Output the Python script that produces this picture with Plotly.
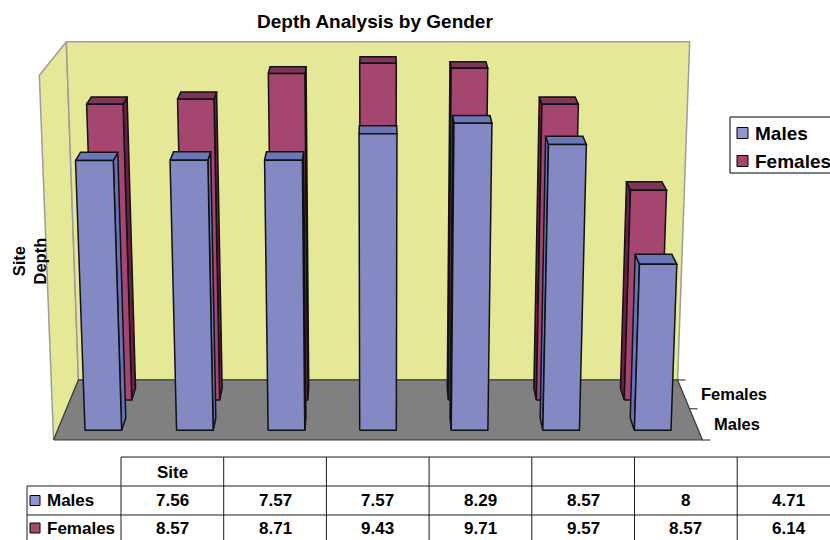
import plotly.graph_objects as go

# ---- data ----
series_names = ["Males", "Females"]
males = [7.56, 7.57, 7.57, 8.29, 8.57, 8, 4.71]
females = [8.57, 8.71, 9.43, 9.71, 9.57, 8.57, 6.14]
table_header = ["Site", "", "", "", "", "", ""]
title_text = "Depth Analysis by Gender"
value_axis_title = "Site<br>Depth"

# ---- styling ----
FONT = "Liberation Sans, Arial, Helvetica, sans-serif"
WALL = "#E5E896"
WALL_EDGE = "#9C9C9C"
FLOOR = "#808080"
FACE = {
    "Males": {"front": "#8489C3", "top": "#6B78B5", "side": "#6673BA", "key": "#8F95D0"},
    "Females": {"front": "#A4466F", "top": "#7E3559", "side": "#6B1F47", "key": "#A4466F"},
}
EDGE = "#111111"

# ---- 3-D world: X = category (0..7), Y = series depth (0..2), Z = value (0..10) ----
N_CAT = len(males)
Z_MAX = 10
BAR_W = 0.4      # bar width within a category slot
BAR_D = 0.4      # bar depth within a series slot
BAR_OFFSET = 0.3  # gap in front of each bar inside its series slot
CAM_X = N_CAT / 2


def proj(X, Y, Z):
    """Perspective projection of world coordinates to page pixels."""
    w = 1 + 0.0415 * Y - 0.0042 * Z
    sx = 378 + 92.7 * (X - CAM_X) / w
    sy = (440 - 14.25 * Y - 36.8 * Z) / w
    return sx, sy


fig = go.Figure()


def poly(pts3d, fill, line_color, width=1.5):
    xs, ys = [], []
    for p in pts3d:
        sx, sy = proj(*p)
        xs.append(sx)
        ys.append(sy)
    xs.append(xs[0])
    ys.append(ys[0])
    fig.add_trace(go.Scatter(
        x=xs, y=ys, mode="lines", fill="toself", fillcolor=fill,
        line=dict(color=line_color, width=width), hoverinfo="skip", showlegend=False,
    ))


n_series = len(series_names)
# walls and floor
poly([(0, 0, 0), (0, n_series, 0), (0, n_series, Z_MAX), (0, 0, Z_MAX)], WALL, WALL_EDGE, 1.5)
poly([(0, n_series, 0), (N_CAT, n_series, 0), (N_CAT, n_series, Z_MAX), (0, n_series, Z_MAX)],
     WALL, WALL_EDGE, 1.5)
poly([(0, 0, 0), (N_CAT, 0, 0), (N_CAT, n_series, 0), (0, n_series, 0)], FLOOR, "#3A3A3A", 1.2)

# depth-axis ticks and labels along the right edge of the floor
for k in range(n_series + 1):
    sx, sy = proj(N_CAT, k, 0)
    fig.add_shape(type="line", x0=sx, y0=sy, x1=sx + 8, y1=sy,
                  line=dict(color="#222222", width=1), xref="x", yref="y")
annotations = []
for k, name in enumerate(series_names):
    sx, sy = proj(N_CAT, k + 0.5, 0)
    annotations.append(dict(x=sx + 16, y=sy, text=f"<b>{name}</b>", xanchor="left",
                            yanchor="middle", showarrow=False,
                            font=dict(family=FONT, size=16.5, color="black")))


def bar(i, s, h, colors):
    x0 = i + (1 - BAR_W) / 2
    x1 = x0 + BAR_W
    y0 = s + BAR_OFFSET
    y1 = y0 + BAR_D
    if x1 < CAM_X:
        poly([(x1, y0, 0), (x1, y1, 0), (x1, y1, h), (x1, y0, h)], colors["side"], EDGE)
    elif x0 > CAM_X:
        poly([(x0, y0, 0), (x0, y1, 0), (x0, y1, h), (x0, y0, h)], colors["side"], EDGE)
    poly([(x0, y0, h), (x1, y0, h), (x1, y1, h), (x0, y1, h)], colors["top"], EDGE)
    poly([(x0, y0, 0), (x1, y0, 0), (x1, y0, h), (x0, y0, h)], colors["front"], EDGE)


# back row first, then front row
for s, (name, vals) in reversed(list(enumerate(zip(series_names, [males, females])))):
    for i, v in enumerate(vals):
        bar(i, s, v, FACE[name])

# ---- title and value-axis title ----
annotations.append(dict(x=375, y=21, text=f"<b>{title_text}</b>", showarrow=False,
                        xanchor="center", yanchor="middle",
                        font=dict(family=FONT, size=19, color="black")))
annotations.append(dict(x=28.5, y=261, text=f"<b>{value_axis_title}</b>", showarrow=False,
                        textangle=-90, xanchor="center", yanchor="middle",
                        font=dict(family=FONT, size=16.5, color="black")))

# ---- legend box ----
fig.add_shape(type="rect", x0=730, y0=117, x1=870, y1=173, line=dict(color="black", width=1),
              fillcolor="white", xref="x", yref="y", layer="above")
for k, (name, cy) in enumerate(zip(series_names, [133, 161])):
    fig.add_shape(type="rect", x0=737, y0=cy - 5.5, x1=748, y1=cy + 5.5,
                  line=dict(color="black", width=1), fillcolor=FACE[name]["key"],
                  xref="x", yref="y", layer="above")
    annotations.append(dict(x=753, y=cy, text=f"<b>{name}</b>", showarrow=False,
                            xanchor="left", yanchor="middle",
                            font=dict(family=FONT, size=19, color="black")))

# ---- data table ----
col_left = 121
col_w = 102.7
row_y = [457, 486, 515, 544]
head_left = 27
line_style = dict(color="#1A1A1A", width=1)
fig.add_shape(type="line", x0=col_left, y0=row_y[0], x1=840, y1=row_y[0], line=line_style,
              xref="x", yref="y")
for ry in row_y[1:3]:
    fig.add_shape(type="line", x0=head_left, y0=ry, x1=840, y1=ry, line=line_style,
                  xref="x", yref="y")
fig.add_shape(type="line", x0=head_left, y0=row_y[1], x1=head_left, y1=row_y[3],
              line=line_style, xref="x", yref="y")
for c in range(N_CAT + 1):
    cx = col_left + c * col_w
    fig.add_shape(type="line", x0=cx, y0=row_y[0], x1=cx, y1=row_y[3], line=line_style,
                  xref="x", yref="y")

tfont = dict(family=FONT, size=17, color="black")
for c, lab in enumerate(table_header):
    if lab:
        annotations.append(dict(x=col_left + (c + 0.5) * col_w, y=(row_y[0] + row_y[1]) / 2 + 1,
                                text=f"<b>{lab}</b>", showarrow=False, xanchor="center",
                                yanchor="middle", font=tfont))
for r, (name, vals) in enumerate(zip(series_names, [males, females])):
    cy = (row_y[r + 1] + row_y[r + 2]) / 2 - (0 if r == 0 else 1.5)
    fig.add_shape(type="rect", x0=30, y0=cy - 5, x1=40, y1=cy + 5,
                  line=dict(color="black", width=1), fillcolor=FACE[name]["key"],
                  xref="x", yref="y")
    annotations.append(dict(x=45, y=cy, text=f"<b>{name}</b>", showarrow=False,
                            xanchor="left", yanchor="middle", font=tfont))
    for c, v in enumerate(vals):
        annotations.append(dict(x=col_left + (c + 0.5) * col_w, y=cy, text=f"<b>{v:g}</b>",
                                showarrow=False, xanchor="center", yanchor="middle", font=tfont))

fig.update_layout(
    width=830, height=540,
    margin=dict(l=0, r=0, t=0, b=0),
    paper_bgcolor="white", plot_bgcolor="white",
    xaxis=dict(range=[0, 830], visible=False, fixedrange=True),
    yaxis=dict(range=[540, 0], visible=False, fixedrange=True),
    annotations=annotations,
    showlegend=False,
)

fig.write_html("out.html")
